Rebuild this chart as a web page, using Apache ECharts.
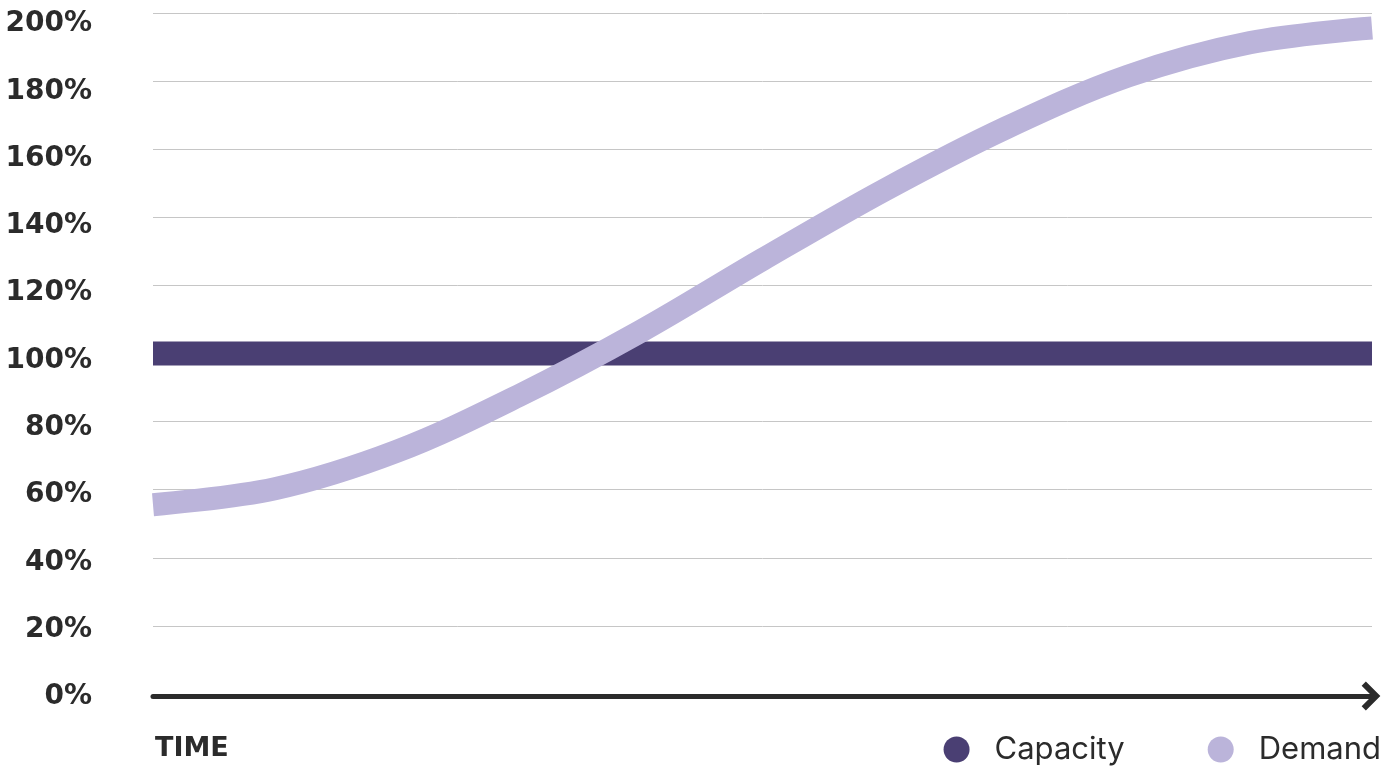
<!DOCTYPE html>
<html>
<head>
<meta charset="utf-8">
<script src="https://cdn.jsdelivr.net/npm/echarts@6/dist/echarts.min.js"></script>
<style>
html,body{margin:0;padding:0;background:#ffffff;}
#chart{width:1382px;height:770px;}
</style>
</head>
<body>
<div id="chart"></div>
<script>
// ---- data ----
const seriesNames = ['Capacity', 'Demand'];
const yTickValues = [0, 20, 40, 60, 80, 100, 120, 140, 160, 180, 200];
const capacityTime = [0, 100];
const capacityValues = [100, 100];
const demandTime = [0, 10, 20, 30, 40, 50, 60, 70, 80, 90, 100];
const demandValues = [55.6, 60.3, 71.3, 87.6, 106.5, 127.6, 148.0, 166.3, 181.5, 191.3, 195.6];
const xAxisTitle = 'TIME';

const capacityColor = '#4a3f73';
const demandColor = '#bbb4da';
const ink = '#2b2b2b';

const chart = echarts.init(document.getElementById('chart'));
chart.setOption({
  backgroundColor: '#ffffff',
  animation: false,
  title: {
    text: xAxisTitle,
    left: 155,
    top: 735,
    padding: 0,
    textStyle: { fontFamily: 'DejaVu Sans', fontWeight: 'bold', fontSize: 27, color: ink }
  },
  legend: {
    data: seriesNames,
    icon: 'circle',
    right: -4,
    top: 729,
    itemWidth: 26,
    itemHeight: 26,
    itemGap: 83,
    textStyle: { fontFamily: 'Inter', fontSize: 31, color: ink, padding: [0, 0, 0, 20] }
  },
  grid: [
    { left: 153, right: 10, top: 13, bottom: 76 },
    { left: 153, right: 10, top: 24, bottom: 73 }
  ],
  xAxis: [
    {
      type: 'value', gridIndex: 0, min: 0, max: 100,
      axisLabel: { show: false }, axisTick: { show: false }, splitLine: { show: false },
      axisLine: {
        show: true, onZero: false,
        symbol: ['none', 'path://M12,0 L24,12 L20.5,15.5 L12,7 L3.5,15.5 L0,12 Z'],
        symbolSize: [29, 19],
        symbolOffset: [0, -1],
        lineStyle: { color: ink, width: 5 }
      },
      offset: 2
    },
    { type: 'value', gridIndex: 1, min: 0, max: 100, show: false }
  ],
  yAxis: [
    {
      type: 'value', gridIndex: 0, min: 0, max: 200, interval: 20,
      axisLabel: { show: false }, axisTick: { show: false }, axisLine: { show: false },
      splitLine: { show: true, lineStyle: { color: '#c6c6c6', width: 1 } }
    },
    {
      type: 'value', gridIndex: 1, min: 0, max: 200, interval: 20,
      axisTick: { show: false }, axisLine: { show: false }, splitLine: { show: false },
      axisLabel: {
        show: true, margin: 61,
        formatter: function (v) { return yTickValues.indexOf(v) >= 0 ? v + '%' : ''; },
        fontFamily: 'DejaVu Sans', fontWeight: 'bold', fontSize: 28, color: ink
      }
    }
  ],
  series: [
    {
      name: seriesNames[0], type: 'line', xAxisIndex: 0, yAxisIndex: 0,
      data: capacityTime.map((t, i) => [t, capacityValues[i]]),
      showSymbol: false, symbol: 'none',
      itemStyle: { color: capacityColor },
      lineStyle: { color: capacityColor, width: 24, cap: 'butt' },
      z: 2
    },
    {
      name: seriesNames[1], type: 'line', xAxisIndex: 0, yAxisIndex: 0,
      data: demandTime.map((t, i) => [t, demandValues[i]]),
      smooth: 0.35,
      showSymbol: false, symbol: 'none',
      itemStyle: { color: demandColor },
      lineStyle: { color: demandColor, width: 23, cap: 'butt' },
      z: 3
    }
  ]
});
</script>
</body>
</html>
